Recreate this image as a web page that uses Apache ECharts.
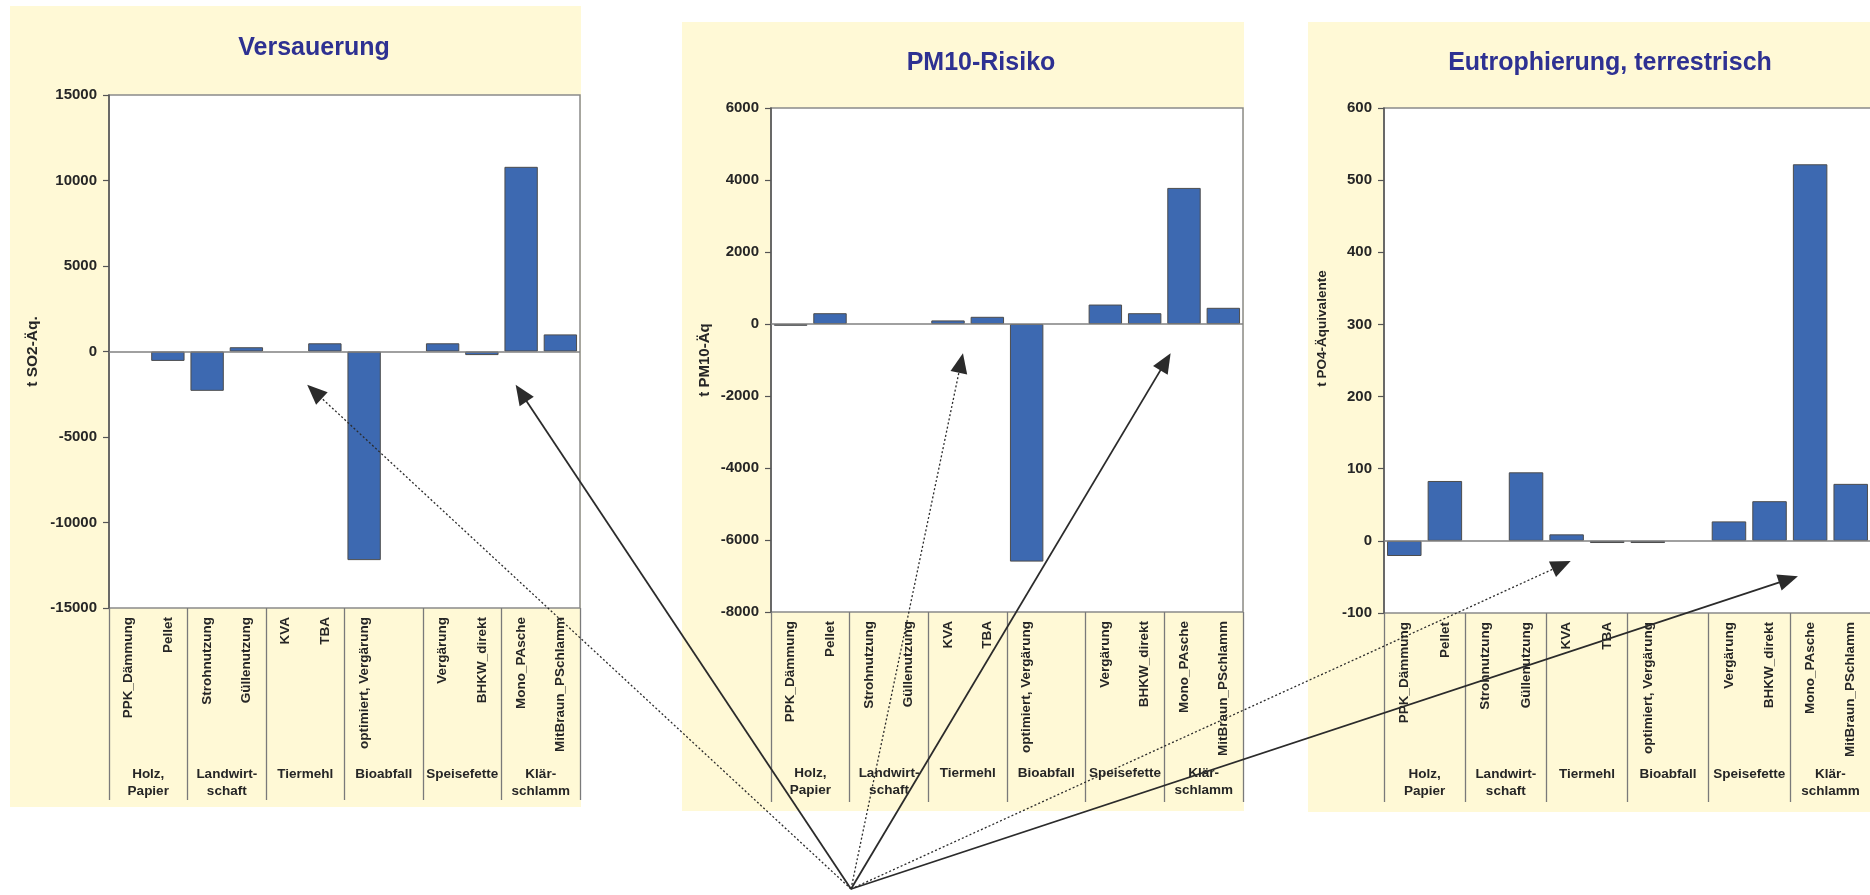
<!DOCTYPE html>
<html>
<head>
<meta charset="utf-8">
<script src="https://cdn.jsdelivr.net/npm/echarts@6/dist/echarts.min.js"></script>
<style>
  html, body { margin: 0; padding: 0; background: #ffffff; }
  #chart { width: 1870px; height: 895px; }
</style>
</head>
<body>
<div id="chart"></div>
<script>
// Scenario names (one empty slot after the Bioabfall scenario)
const categories = ['PPK_Dämmung', 'Pellet', 'Strohnutzung', 'Güllenutzung', 'KVA', 'TBA',
  'optimiert, Vergärung', '', 'Vergärung', 'BHKW_direkt', 'Mono_PAsche', 'MitBraun_PSchlamm'];
// Material groups, two scenario slots each
const groups = ['Holz,\nPapier', 'Landwirt-\nschaft', 'Tiermehl', 'Bioabfall', 'Speisefette', 'Klär-\nschlamm'];

// Results per scenario
const versauerung   = [null, -550, -2300, 250, null, 480, -12200, null, 480, -210, 10800, 1000];
const pm10Risiko    = [-50, 300, null, null, 100, 200, -6600, null, 540, 300, 3780, 450];
const eutrophierung = [-21, 83, null, 95, 9, -3, -3, null, 27, 55, 522, 79];

// Value axis ticks: [min, max, step]
const versauerungTicks   = [-15000, 15000, 5000];
const pm10Ticks          = [-8000, 6000, 2000];
const eutrophierungTicks = [-100, 600, 100];

// Arrow targets per panel: [category position, value]
const arrowTargets = [
  [[4.55, -1950], [9.86, -1950]],
  [[4.38, -810], [9.66, -810]],
  [[4.10, -28], [9.70, -49]]
];

const FONT = '"Liberation Sans", Arial, Helvetica, sans-serif';
const TEXT = '#262626';
const PANEL_BG = '#FFF9D6';

const panels = [
  { title: 'Versauerung', axisName: 't SO2-Äq.', values: versauerung, ticks: versauerungTicks,
    bg: [10, 6, 571, 801], grid: [109, 95, 471, 513], titleAt: [314, 45],
    nameGap: 68, nameSize: 15.5, nameShift: 0, sepLen: 192, groupMargin: 158 },
  { title: 'PM10-Risiko', axisName: 't PM10-Äq', values: pm10Risiko, ticks: pm10Ticks,
    bg: [682, 22, 562, 789], grid: [771, 108, 472, 504], titleAt: [981, 60],
    nameGap: 59, nameSize: 15, nameShift: 0, sepLen: 190, groupMargin: 153 },
  { title: 'Eutrophierung, terrestrisch', axisName: 't PO4-Äquivalente', values: eutrophierung, ticks: eutrophierungTicks,
    bg: [1308, 22, 600, 790], grid: [1384, 108, 487, 505], titleAt: [1610, 60],
    nameGap: 55, nameSize: 13.5, nameShift: 64, sepLen: 189, groupMargin: 153 }
];

const chart = echarts.init(document.getElementById('chart'), null, { renderer: 'canvas', width: 1870, height: 895 });

const option = {
  animation: false,
  backgroundColor: '#ffffff',
  title: panels.map(p => ({
    text: p.title,
    left: p.titleAt[0],
    top: p.titleAt[1] - 9,
    textAlign: 'center',
    padding: 0,
    textStyle: { fontFamily: FONT, fontWeight: 'bold', fontSize: 25, color: '#2E3192' }
  })),
  grid: panels.map(p => ({
    left: p.grid[0], top: p.grid[1], width: p.grid[2], height: p.grid[3],
    show: true, backgroundColor: '#ffffff', borderColor: '#8a8a8a', borderWidth: 1.5,
    outerBoundsMode: 'none'
  })),
  xAxis: [],
  yAxis: [],
  series: [],
  graphic: { elements: [] }
};

panels.forEach((p, i) => {
  // scenario labels, rotated
  option.xAxis.push({
    type: 'category', gridIndex: i, data: categories, position: 'bottom',
    axisLine: { show: false, onZero: false },
    axisTick: { show: false },
    splitLine: { show: false },
    axisLabel: {
      interval: 0, rotate: 90, margin: 9,
      fontFamily: FONT, fontWeight: 'bold', fontSize: 13.5, color: TEXT
    }
  });
  // group labels with long separator ticks
  option.xAxis.push({
    type: 'category', gridIndex: i, data: groups, position: 'bottom',
    axisLine: { show: false, onZero: false },
    axisTick: { show: true, interval: 0, length: p.sepLen, lineStyle: { color: '#7a7a7a', width: 1.3 } },
    splitLine: { show: false },
    axisLabel: {
      interval: 0, margin: p.groupMargin, lineHeight: 17,
      fontFamily: FONT, fontWeight: 'bold', fontSize: 13.5, color: TEXT
    }
  });
  option.yAxis.push({
    type: 'value', gridIndex: i,
    min: p.ticks[0], max: p.ticks[1], interval: p.ticks[2],
    name: p.axisName, nameLocation: 'middle', nameGap: p.nameGap,
    nameTextStyle: {
      fontFamily: FONT, fontWeight: 'bold', fontSize: p.nameSize, color: TEXT,
      padding: [0, 0, 0, p.nameShift]
    },
    axisLine: { show: true, lineStyle: { color: '#555555', width: 1.5 } },
    axisTick: { show: true, length: 6, lineStyle: { color: '#555555', width: 1.2 } },
    splitLine: { show: false },
    axisLabel: {
      margin: 12, fontFamily: FONT, fontWeight: 'bold', fontSize: 15, color: TEXT,
      formatter: v => String(v)
    }
  });
  option.series.push({
    type: 'bar', xAxisIndex: 2 * i, yAxisIndex: i, data: p.values,
    barCategoryGap: '15%',
    itemStyle: { color: '#3D69B1', borderColor: '#4d4d4d', borderWidth: 1 },
    markLine: {
      silent: true, symbol: 'none', label: { show: false },
      lineStyle: { color: '#808080', width: 1.5, type: 'solid' },
      emphasis: { disabled: true },
      data: [{ yAxis: 0 }]
    }
  });
  option.graphic.elements.push({
    type: 'rect', id: 'panel' + i, z: -10, silent: true,
    shape: { x: p.bg[0], y: p.bg[1], width: p.bg[2], height: p.bg[3] },
    style: { fill: PANEL_BG }
  });
});

chart.setOption(option);

// Annotation arrows from a common origin below the middle panel
const origin = [851, 889];
const arrows = [];
arrowTargets.forEach((pair, i) => {
  const x0 = chart.convertToPixel({ xAxisIndex: 2 * i }, 0);
  const step = chart.convertToPixel({ xAxisIndex: 2 * i }, 1) - x0;
  pair.forEach((t, k) => {
    const tx = x0 + t[0] * step;
    const ty = chart.convertToPixel({ yAxisIndex: i }, t[1]);
    const dx = tx - origin[0], dy = ty - origin[1];
    const len = Math.sqrt(dx * dx + dy * dy);
    const ux = dx / len, uy = dy / len;
    const headLen = 20, headHalf = 8.5;
    const bx = tx - ux * headLen, by = ty - uy * headLen;
    const dotted = k === 0;
    arrows.push({
      type: 'line', id: 'shaft' + i + k, z: 100, silent: true,
      shape: { x1: origin[0], y1: origin[1], x2: bx + ux * 2, y2: by + uy * 2 },
      style: {
        stroke: '#2b2b2b', lineWidth: dotted ? 1.3 : 1.8,
        lineDash: dotted ? [2, 2.2] : null
      }
    });
    arrows.push({
      type: 'polygon', id: 'head' + i + k, z: 100, silent: true,
      shape: { points: [[tx, ty], [bx - uy * headHalf, by + ux * headHalf], [bx + uy * headHalf, by - ux * headHalf]] },
      style: { fill: '#2b2b2b' }
    });
  });
});
chart.setOption({ graphic: { elements: option.graphic.elements.concat(arrows) } });
</script>
</body>
</html>
